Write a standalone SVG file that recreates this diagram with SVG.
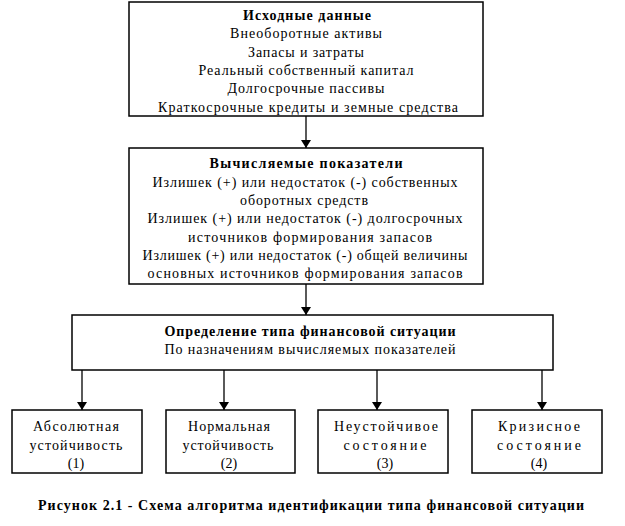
<svg xmlns="http://www.w3.org/2000/svg" width="625" height="526" viewBox="0 0 625 526">
<style>
  .box { fill: #fff; stroke: #000; stroke-width: 1.5; }
  .t text { font-size: 14px; fill: #000; text-anchor: middle; }
  .b { font-weight: bold; }
  .conn line { stroke: #000; stroke-width: 1.3; }
</style>
<defs>
  <marker id="arr" viewBox="0 0 8 10" refX="8" refY="5" markerWidth="8" markerHeight="10" markerUnits="userSpaceOnUse" orient="auto">
    <path d="M0,0 L8,5 L0,10 Z" fill="#000"/>
  </marker>
</defs>
<rect width="625" height="526" fill="#fff"/>

<g class="t" font-family="'Liberation Serif', 'DejaVu Serif', serif">
<g id="n1">
  <rect class="box" x="129" y="2" width="354" height="114"/>
  <text class="b" x="307" y="20" textLength="128" lengthAdjust="spacing">Исходные данные</text>
  <text x="306" y="38" textLength="152" lengthAdjust="spacing">Внеоборотные активы</text>
  <text x="306" y="57" textLength="116" lengthAdjust="spacing">Запасы и затраты</text>
  <text x="306" y="75" textLength="215" lengthAdjust="spacing">Реальный собственный капитал</text>
  <text x="306" y="93" textLength="157" lengthAdjust="spacing">Долгосрочные пассивы</text>
  <text x="308" y="112" textLength="300" lengthAdjust="spacing">Краткосрочные кредиты и земные средства</text>
</g>

<g id="n2">
  <rect class="box" x="129" y="148" width="354" height="136"/>
  <text class="b" x="306" y="168" textLength="193" lengthAdjust="spacing">Вычисляемые показатели</text>
  <text x="305" y="187" textLength="305" lengthAdjust="spacing">Излишек (+) или недостаток (-) собственных</text>
  <text x="304" y="205" textLength="128" lengthAdjust="spacing">оборотных средств</text>
  <text x="305" y="223" textLength="315" lengthAdjust="spacing">Излишек (+) или недостаток (-) долгосрочных</text>
  <text x="310" y="242" textLength="244" lengthAdjust="spacing">источников формирования запасов</text>
  <text x="305" y="260" textLength="325" lengthAdjust="spacing">Излишек (+) или недостаток (-) общей величины</text>
  <text x="305" y="278" textLength="315" lengthAdjust="spacing">основных источников формирования запасов</text>
</g>

<g id="n3">
  <rect class="box" x="72" y="315" width="481" height="55"/>
  <text class="b" x="310" y="336" textLength="291" lengthAdjust="spacing">Определение типа финансовой ситуации</text>
  <text x="310" y="354" textLength="291" lengthAdjust="spacing">По назначениям вычисляемых показателей</text>
</g>

<g id="n4">
  <rect class="box" x="12" y="410" width="130" height="63"/>
  <text x="76" y="431" textLength="86" lengthAdjust="spacing">Абсолютная</text>
  <text x="76" y="450" textLength="93" lengthAdjust="spacing">устойчивость</text>
  <text x="76" y="468">(1)</text>
</g>

<g id="n5">
  <rect class="box" x="166" y="410" width="129" height="63"/>
  <text x="229" y="431" textLength="82" lengthAdjust="spacing">Нормальная</text>
  <text x="228" y="450" textLength="91" lengthAdjust="spacing">устойчивость</text>
  <text x="229" y="468">(2)</text>
</g>

<g id="n6">
  <rect class="box" x="318" y="410" width="130" height="63"/>
  <text x="386" y="431" textLength="104" lengthAdjust="spacing">Неустойчивое</text>
  <text x="385" y="450" textLength="83" lengthAdjust="spacing">состояние</text>
  <text x="385" y="468">(3)</text>
</g>

<g id="n7">
  <rect class="box" x="472" y="410" width="130" height="63"/>
  <text x="539" y="431" textLength="82" lengthAdjust="spacing">Кризисное</text>
  <text x="539" y="450" textLength="84" lengthAdjust="spacing">состояние</text>
  <text x="539" y="468">(4)</text>
</g>

<text class="b" x="311" y="510" textLength="546" lengthAdjust="spacing">Рисунок 2.1 - Схема алгоритма идентификации типа финансовой ситуации</text>
</g>

<g id="connectors" class="conn">
  <line x1="306" y1="116" x2="306" y2="148" marker-end="url(#arr)"/>
  <line x1="306" y1="284" x2="306" y2="315" marker-end="url(#arr)"/>
  <line x1="82" y1="370" x2="82" y2="410" marker-end="url(#arr)"/>
  <line x1="224" y1="370" x2="224" y2="410" marker-end="url(#arr)"/>
  <line x1="377" y1="370" x2="377" y2="410" marker-end="url(#arr)"/>
  <line x1="542" y1="370" x2="542" y2="410" marker-end="url(#arr)"/>
</g>
</svg>
